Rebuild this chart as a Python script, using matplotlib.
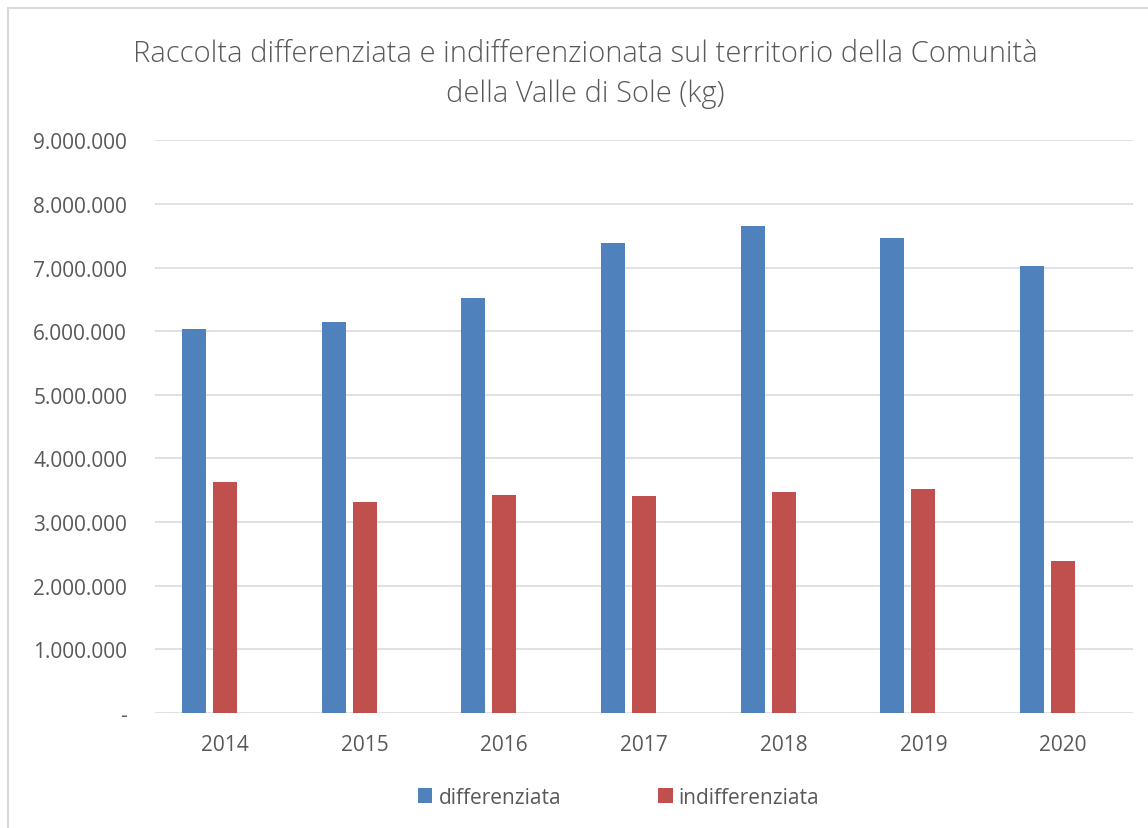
import matplotlib
matplotlib.use("Agg")
import matplotlib.pyplot as plt
from matplotlib.patches import Rectangle
from matplotlib.ticker import FuncFormatter
import numpy as np

years = ["2014", "2015", "2016", "2017", "2018", "2019", "2020"]
differenziata = [6035000, 6145000, 6520000, 7390000, 7660000, 7465000, 7020000]
indifferenziata = [3635000, 3320000, 3420000, 3415000, 3480000, 3515000, 2390000]
series_names = ["differenziata", "indifferenziata"]
title = "Raccolta differenziata e indifferenzionata sul territorio della Comunità\ndella Valle di Sole (kg)"

W, H = 1148, 829
fig = plt.figure(figsize=(W / 100, H / 100), dpi=100)
fig.patch.set_facecolor("white")

# chart frame
fig.patches.append(Rectangle((8 / W, -0.05), 1.2, 1 - 9 / H + 0.05, transform=fig.transFigure,
                             fill=False, edgecolor="#d9d9d9", linewidth=1.5))

ax = fig.add_axes([155 / W, 1 - 714 / H, (1133 - 155) / W, (714 - 141.3) / H])
FONT = "Open Sans"
TXT = "#595959"
blue = "#4F81BD"
red = "#C0504D"

x = np.arange(len(years))
cat_px = (1133 - 155) / 7
w = 24 / cat_px
off = 31 / cat_px
ax.bar(x - off, differenziata, width=w, color=blue, label=series_names[0], zorder=3)
ax.bar(x, indifferenziata, width=w, color=red, label=series_names[1], zorder=3)

ax.set_xlim(-0.5, len(years) - 0.5)
ax.set_ylim(0, 9000000)
ax.set_yticks(np.arange(0, 9000001, 1000000))


def fmt(v, pos):
    if v == 0:
        return "-"
    return f"{int(v):,}".replace(",", ".")


ax.yaxis.set_major_formatter(FuncFormatter(fmt))
ax.set_xticks(x)
ax.set_xticklabels(years)
ax.grid(axis="y", color="#d9d9d9", linewidth=1.1, zorder=0)
ax.set_axisbelow(True)
for s in ax.spines.values():
    s.set_visible(False)
ax.tick_params(axis="both", length=0, colors=TXT, labelsize=15)
ax.tick_params(axis="y", pad=20)
ax.tick_params(axis="x", pad=15)
for lab in ax.get_xticklabels() + ax.get_yticklabels():
    lab.set_fontfamily(FONT)

fig.text(0.5 * (135 + 1035) / W, 1 - 74 / H, title, ha="center", va="center",
         fontsize=21, color=TXT, family=FONT, fontweight="light", linespacing=1.45)

leg = ax.legend(loc="center", bbox_to_anchor=((618.5 - 155) / 978, (714 - 798) / (714 - 141.3)),
                ncol=2, frameon=False, handlelength=0.7, handleheight=0.7,
                columnspacing=4.65, handletextpad=0.3,
                prop={"family": FONT, "size": 15})
for t in leg.get_texts():
    t.set_color(TXT)

fig.savefig("out.png", dpi=100, facecolor="white")
